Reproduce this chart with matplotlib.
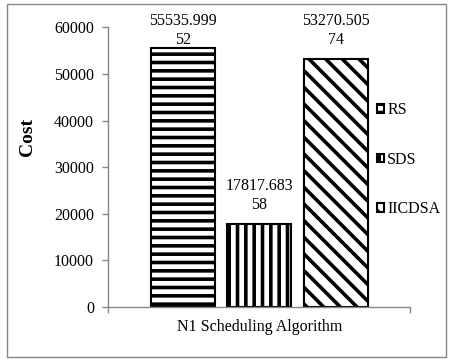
import matplotlib
matplotlib.use('Agg')
import matplotlib.pyplot as plt
from matplotlib.patches import Rectangle

# data
series = ['RS', 'SDS', 'IICDSA']
costs = [55535.99952, 17817.68358, 53270.50574]
category = 'N1 Scheduling Algorithm'
yticks = [0, 10000, 20000, 30000, 40000, 50000, 60000]

hatches = ['--', '||', '\\\\']
gray = '#868686'

plt.rcParams['font.family'] = ['Liberation Serif', 'DejaVu Serif']
plt.rcParams['hatch.linewidth'] = 2.6

fig = plt.figure(figsize=(4.52, 3.59), dpi=100)
ax = fig.add_axes([0.240, 0.1448, 0.667, 0.7786])

# outer chart border
fig.patches.append(Rectangle((7/452, 2/359), 439/452, 353/359, transform=fig.transFigure,
                             fill=False, edgecolor=gray, linewidth=1.0))

step = 0.254
width = 0.212
for i, (name, val, h) in enumerate(zip(series, costs, hatches)):
	x = (i - 1) * step
	ax.bar(x, val, width=width, color='white', edgecolor='black', hatch=h,
		   linewidth=1.5, label=name)
	s = f'{val:.5f}'
	ax.text(x, min(val + 2400, 55700), s[:9] + '\n' + s[9:], ha='center', va='bottom',
			fontsize=11.5, linespacing=1.2)

ax.set_xlim(-0.5, 0.5)
ax.set_ylim(0, 60000)
ax.set_yticks(yticks)
ax.set_xticks([-0.5, 0.5])
ax.set_xticklabels(['', ''])
ax.tick_params(axis='y', direction='out', length=4.5, width=1.0, color=gray, labelsize=11.5, pad=6)
ax.tick_params(axis='x', direction='out', length=4.5, width=1.0, color=gray)

for side in ['top', 'right']:
	ax.spines[side].set_visible(False)
for side in ['left', 'bottom']:
	ax.spines[side].set_color(gray)
	ax.spines[side].set_linewidth(1.0)

fig.text(0.5735, (359 - 327) / 359, category, ha='center', va='center', fontsize=11.5)
fig.text(28 / 452, (359 - 137) / 359, 'Cost', rotation=90, ha='center', va='center',
		 fontsize=14, fontweight='bold')

ax.legend(loc='upper left', bbox_to_anchor=(369 / 452, (359 - 94) / 359),
		  bbox_transform=fig.transFigure, frameon=False, borderpad=0,
		  handlelength=0.45, handleheight=0.45, handletextpad=0.2,
		  labelspacing=2.1, fontsize=11.5)

fig.savefig('out.png', dpi=100)
